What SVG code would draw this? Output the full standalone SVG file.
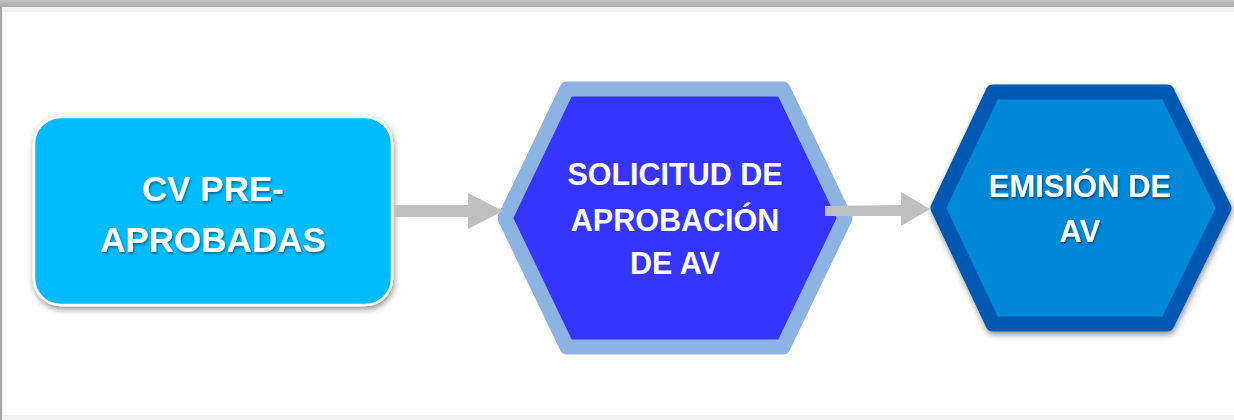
<svg xmlns="http://www.w3.org/2000/svg" width="1234" height="420" viewBox="0 0 1234 420">
  <defs>
    <linearGradient id="topband" x1="0" y1="0" x2="0" y2="1">
      <stop offset="0" stop-color="#c4c4c4"/>
      <stop offset="0.6" stop-color="#b2b2b2"/>
      <stop offset="1" stop-color="#a9a9a9"/>
    </linearGradient>
    <filter id="shadow" x="-10%" y="-10%" width="120%" height="125%">
      <feGaussianBlur in="SourceAlpha" stdDeviation="3"/>
      <feOffset dx="1" dy="3" result="b"/>
      <feComponentTransfer><feFuncA type="linear" slope="0.45"/></feComponentTransfer>
      <feMerge><feMergeNode/><feMergeNode in="SourceGraphic"/></feMerge>
    </filter>
    <filter id="tshadow" x="-10%" y="-20%" width="120%" height="150%">
      <feGaussianBlur in="SourceAlpha" stdDeviation="1"/>
      <feOffset dx="1" dy="2" result="b"/>
      <feComponentTransfer><feFuncA type="linear" slope="0.4"/></feComponentTransfer>
      <feMerge><feMergeNode/><feMergeNode in="SourceGraphic"/></feMerge>
    </filter>
  </defs>
  <style>
    .lbl { font-family: "Liberation Sans", Arial, sans-serif; font-weight: bold; fill: #ffffff; text-anchor: middle; }
    .arrow { fill: #bfbfbf; }
  </style>

  <!-- frame -->
  <rect x="0" y="0" width="1234" height="420" fill="#f1f1f1"/>
  <rect x="0" y="0" width="1234" height="7" fill="url(#topband)"/>
  <rect x="3" y="12" width="1231" height="403" fill="#ffffff"/>
  <rect x="0" y="7" width="2" height="413" fill="#a6a6a6"/>

  <g id="node-cv">
    <rect x="34" y="117" width="358" height="188" rx="27" ry="27" fill="#06bbfd" stroke="#ffffff" stroke-width="2.5" filter="url(#shadow)"/>
    <g filter="url(#tshadow)">
      <text class="lbl" x="213" y="201" font-size="35">CV PRE-</text>
      <text class="lbl" x="213" y="252" font-size="35">APROBADAS</text>
    </g>
  </g>

  <g id="node-solicitud">
    <polygon points="505,218 567,89 783,89 845,218 783,347 567,347" fill="#3535ff" stroke="#8db3e2" stroke-width="15" stroke-linejoin="round"/>
    <text class="lbl" x="675" y="185" font-size="30.5">SOLICITUD DE</text>
    <text class="lbl" x="675" y="231" font-size="30.5">APROBACIÓN</text>
    <text class="lbl" x="675" y="274" font-size="30.5">DE AV</text>
  </g>

  <g id="node-emision">
    <polygon points="938,208 993,92 1167,92 1224,208 1167,324 993,324" fill="#0088d9" stroke="#0059b3" stroke-width="15" stroke-linejoin="round" filter="url(#shadow)"/>
    <g filter="url(#tshadow)">
      <text class="lbl" x="1080" y="197" font-size="31">EMISIÓN DE</text>
      <text class="lbl" x="1080" y="242" font-size="31">AV</text>
    </g>
  </g>

  <g id="connectors">
    <polygon class="arrow" points="394,205 468,205 468,193 503,211 468,229 468,217 394,217"/>
    <polygon class="arrow" points="825,206 901,205 901,192 930,209 901,226 901,216 825,216"/>
  </g>
</svg>
